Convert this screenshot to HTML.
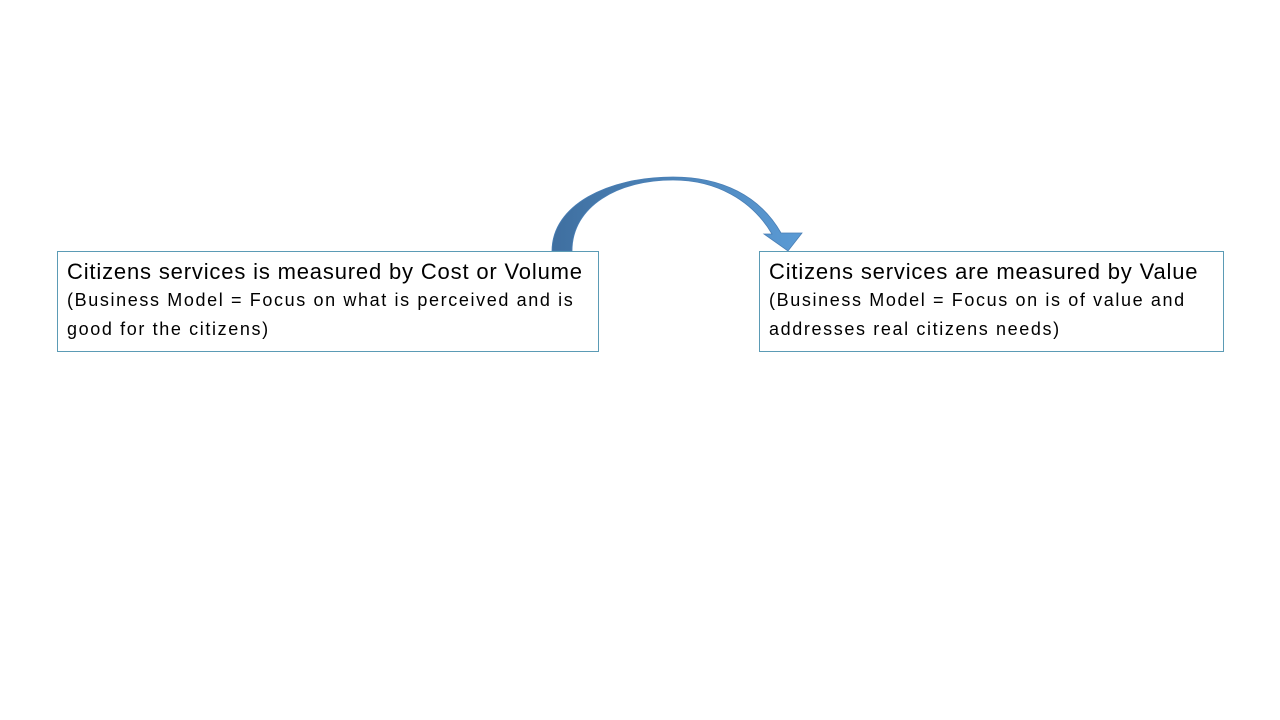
<!DOCTYPE html>
<html><head><meta charset="utf-8"><style>
body{margin:0;width:1280px;height:720px;background:#fff;position:relative;overflow:hidden;font-family:"Liberation Sans",sans-serif;color:#000}
.box{position:absolute;border:1px solid #5b9bb5;box-sizing:border-box;padding:6px 9px;background:#fff}
.t{font-size:22px;line-height:28px;letter-spacing:0.83px;white-space:nowrap}
.s{font-size:18px;line-height:29px;letter-spacing:1.62px;white-space:nowrap}
</style></head><body>
<svg width="1280" height="720" style="position:absolute;left:0;top:0">
<defs><linearGradient id="g" x1="0" x2="1" y1="0" y2="0"><stop offset="0" stop-color="#3f6fa0"/><stop offset="1" stop-color="#5b9bd5"/></linearGradient></defs>
<path d="M552,251 C552,205 608,177 673,177 C722,177 760,196 781,233 L802,233 L788,251 L764,234 L772,234 C752,200 716,180 673,180 C618,180 572,206 572,251 Z" fill="url(#g)" stroke="#4a7fb5" stroke-width="0.8"/>
</svg>
<div class="box" style="left:57px;top:251px;width:542px;height:101px">
<div class="t">Citizens services is measured by Cost or Volume</div>
<div class="s">(Business Model = Focus on what is perceived and is<br>good for the citizens)</div>
</div>
<div class="box" style="left:759px;top:251px;width:465px;height:101px">
<div class="t">Citizens services are measured by Value</div>
<div class="s">(Business Model = Focus on is of value and<br>addresses real citizens needs)</div>
</div>
</body></html>
